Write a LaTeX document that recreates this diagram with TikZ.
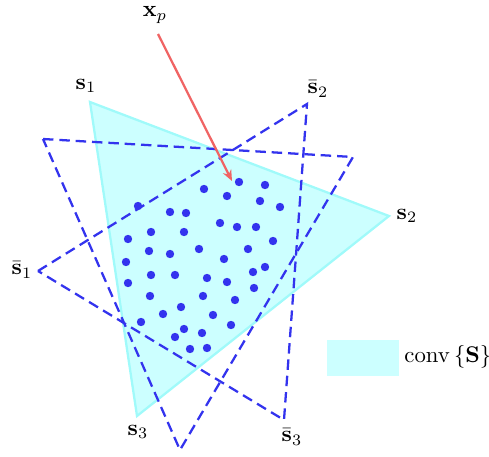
\documentclass[tikz,border=0pt]{standalone}
\usetikzlibrary{arrows.meta}
\definecolor{hullfill}{RGB}{204,255,255}
\definecolor{hulledge}{RGB}{160,250,250}
\definecolor{dotblue}{RGB}{51,51,238}
\definecolor{arrred}{RGB}{240,100,100}
\begin{document}
\begin{tikzpicture}[x=0.44pt,y=-0.44pt,
  hull/.style={fill=hullfill,draw=hulledge,line width=1pt,line join=miter},
  dtri/.style={draw=dotblue,line width=1pt,dash pattern=on 4.6pt off 2.6pt},
  pt/.style={fill=dotblue},
  lab/.style={inner sep=0pt,font=\normalsize},
  redarrow/.style={draw=arrred,line width=1pt,-{Stealth[length=4.8pt,width=4pt]}}]
\useasboundingbox (0,0) rectangle (489,457);
% convex hull
\coordinate (s1) at (90,102);
\coordinate (s2) at (389,216);
\coordinate (s3) at (137,416);
\path[hull] (s1) -- (s2) -- (s3) -- cycle;
% dashed triangle A
\coordinate (a1) at (43,139);
\coordinate (a2) at (353,157);
\coordinate (a3) at (180,450);
\draw[dtri] (a1) -- (a2) -- (a3) -- cycle;
% dashed triangle B
\coordinate (b1) at (38,271);
\coordinate (b2) at (307,104);
\coordinate (b3) at (284,420);
\draw[dtri] (b1) -- (b2) -- (b3) -- cycle;
% points
\foreach \x/\y in {239/182,265/185,204/189,227/196,260/201,280/207,138/206,170/212,186/213,
  220/223,237/227,256/227,151/232,184/232,128/239,273/241,149/251,170/254,199/249,248/249,
  224/259,126/262,253/272,265/267,151/275,175/275,207/278,227/282,128/283,254/288,150/296,
  203/296,235/300,181/307,163/314,213/315,141/322,231/325,184/329,202/333,175/337,190/349,207/348}
  \fill[pt] (\x,\y) circle (1.85pt);
% arrow
\node[lab] (xp) at (155,15) {$\mathbf{x}_p$};
\coordinate (xpstart) at (158,34);
\coordinate (xptip) at (232,181);
\draw[redarrow] (xpstart) -- (xptip);
% labels
\node[lab] (ls1) at (86,86) {$\mathbf{s}_1$};
\node[lab] (ls2) at (407,216) {$\mathbf{s}_2$};
\node[lab] (ls3) at (138,432) {$\mathbf{s}_3$};
\node[lab] (lb1) at (22,270) {$\bar{\mathbf{s}}_1$};
\node[lab] (lb2) at (318,89) {$\bar{\mathbf{s}}_2$};
\node[lab] (lb3) at (292,437) {$\bar{\mathbf{s}}_3$};
% legend
\path[fill=hullfill] (327,340) rectangle (399,376);
\node[lab,anchor=west] (leg) at (404,357) {$\mathrm{conv}\left\{\mathbf{S}\right\}$};
\end{tikzpicture}
\end{document}
